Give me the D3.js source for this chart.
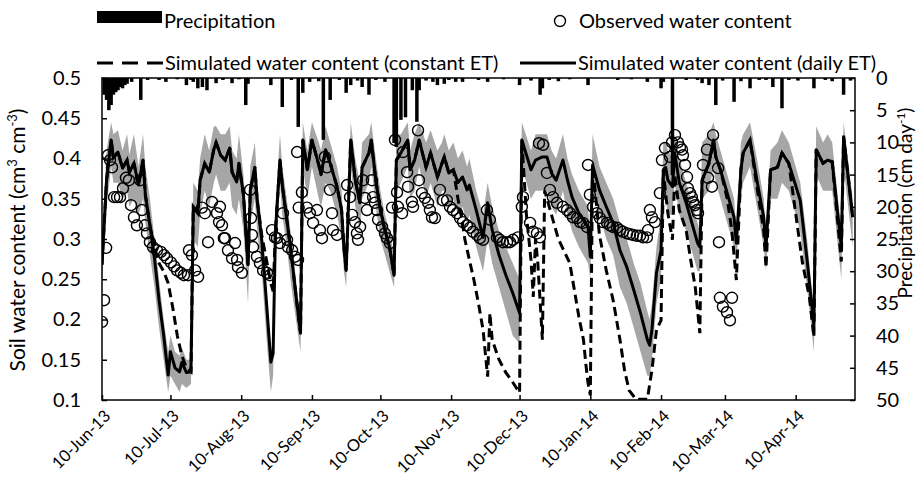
<!DOCTYPE html>
<html lang="en">
<head>
<meta charset="UTF-8" />
<title>Soil water content and precipitation</title>
<script src="https://cdn.jsdelivr.net/npm/d3@7"></script>
<style>
  body { margin: 0; background: #fff; }
  svg text { font-family: Lato, 'Liberation Sans', sans-serif; fill: #000; }
  .axis text { font-size: 20px; }
  .axis.x text { font-size: 16.5px; }
  .axis line { stroke: #000; stroke-width: 1.5; }
  .axis path { display: none; }
</style>
</head>
<body>
<div id="chart"></div>
<script>
// day 0 = 10 Jun 2013
const startDate = Date.UTC(2013, 5, 10);
const endDay = 330;

// precipitation, [day, cm/day]
const precip = [
  [1,2.6],[2,3.4],[3,5.0],[4,4.2],[5,2.6],[6,2.2],[7,1.9],[8,1.4],[9,1.6],[10,1.1],[11,0.9],[13,0.6],
  [17,3.4],[20,0.3],[25,0.3],[28,0.6],[33,0.2],[37,1.1],[39,0.3],[40,0.6],[42,1.6],[44,1.4],[46,1.9],
  [50,0.8],[53,0.3],[57,0.8],[60,0.2],[63,4.2],[64,0.9],[74,1.1],[79,4.5],[83,0.3],[86,7.6],[88,2.3],
  [91,0.6],[95,0.5],[97,9.6],[100,3.4],[104,0.3],[107,2.3],[109,1.1],[112,0.4],[114,1.4],[117,2.6],
  [120,0.3],[124,0.6],[128,10.1],[129,10.7],[131,6.5],[133,6.1],[136,1.9],[138,6.8],[139,1.9],
  [142,0.4],[145,0.6],[147,1.1],[150,0.9],[152,0.3],[155,0.6],[158,0.6],[165,0.3],[169,0.6],[176,0.2],
  [183,1.1],[188,0.4],[192,2.6],[193,1.6],[196,0.3],[200,0.5],[205,0.2],[213,1.1],[226,0.3],[232,0.2],
  [239,0.6],[245,1.6],[246,0.6],[250,15.1],[256,0.3],[261,0.3],[263,0.8],[266,1.1],[269,4.2],[272,0.4],
  [277,3.7],[280,0.5],[284,1.6],[288,0.3],[291,0.3],[294,1.4],[298,4.7],[301,0.3],[305,0.4],[312,1.6],
  [317,0.3],[320,0.5],[325,2.6],[328,0.4]
];

// simulated water content with daily ET, [day, value, band low, band high]
const simDaily = [
  [0,0.268,0.25,0.30],[2,0.373,0.34,0.41],[4,0.423,0.39,0.445],[5,0.401,0.37,0.43],[7,0.408,0.37,0.435],
  [9,0.388,0.35,0.41],[11,0.398,0.36,0.43],[12,0.383,0.34,0.405],[14,0.394,0.35,0.43],[16,0.367,0.33,0.39],
  [18,0.398,0.35,0.43],[19,0.355,0.32,0.39],[21,0.317,0.28,0.35],[23,0.276,0.24,0.30],[25,0.224,0.19,0.25],
  [27,0.181,0.15,0.20],[29,0.131,0.11,0.16],[30,0.160,0.13,0.18],[32,0.140,0.12,0.16],[34,0.135,0.11,0.155],
  [35,0.147,0.12,0.165],[37,0.134,0.115,0.15],[39,0.135,0.12,0.15],[40,0.340,0.30,0.37],[42,0.332,0.29,0.36],
  [43,0.373,0.33,0.40],[45,0.394,0.36,0.43],[47,0.383,0.34,0.41],[49,0.411,0.37,0.44],[50,0.420,0.38,0.44],
  [52,0.404,0.36,0.43],[54,0.398,0.36,0.43],[56,0.413,0.37,0.44],[57,0.383,0.34,0.41],[59,0.371,0.33,0.40],
  [60,0.394,0.35,0.43],[62,0.355,0.31,0.38],[64,0.268,0.22,0.29],[65,0.361,0.32,0.39],[67,0.389,0.35,0.42],
  [68,0.348,0.31,0.37],[70,0.299,0.26,0.32],[72,0.224,0.18,0.24],[74,0.147,0.11,0.16],[75,0.158,0.13,0.17],
  [76,0.309,0.27,0.34],[78,0.398,0.37,0.43],[79,0.367,0.33,0.39],[81,0.324,0.29,0.35],[83,0.280,0.24,0.30],
  [85,0.230,0.20,0.25],[87,0.183,0.16,0.20],[88,0.423,0.39,0.445],[90,0.386,0.35,0.41],[92,0.423,0.39,0.445],
  [95,0.392,0.35,0.42],[96,0.380,0.34,0.41],[98,0.411,0.37,0.44],[100,0.394,0.36,0.42],[103,0.365,0.33,0.39],
  [105,0.336,0.30,0.36],[106,0.290,0.26,0.31],[107,0.261,0.24,0.28],[109,0.423,0.39,0.445],[111,0.373,0.34,0.40],
  [113,0.345,0.31,0.37],[114,0.389,0.35,0.42],[117,0.407,0.37,0.43],[118,0.423,0.39,0.445],[120,0.373,0.34,0.40],
  [122,0.336,0.30,0.36],[124,0.311,0.28,0.33],[126,0.290,0.26,0.31],[128,0.255,0.24,0.28],[129,0.398,0.36,0.43],
  [131,0.407,0.37,0.43],[134,0.423,0.39,0.445],[135,0.386,0.35,0.41],[137,0.398,0.36,0.43],[139,0.423,0.39,0.445],
  [142,0.389,0.35,0.42],[144,0.407,0.37,0.435],[147,0.377,0.34,0.41],[149,0.394,0.36,0.42],[150,0.402,0.36,0.43],
  [152,0.382,0.34,0.41],[154,0.386,0.35,0.42],[156,0.370,0.33,0.40],[158,0.377,0.34,0.41],[160,0.361,0.32,0.39],
  [161,0.367,0.33,0.40],[164,0.336,0.29,0.36],[167,0.302,0.26,0.33],[169,0.345,0.30,0.37],[171,0.311,0.27,0.34],
  [174,0.280,0.24,0.31],[177,0.255,0.21,0.29],[180,0.233,0.18,0.27],[183,0.208,0.17,0.25],[184,0.423,0.39,0.445],
  [188,0.386,0.35,0.41],[190,0.398,0.36,0.43],[193,0.402,0.36,0.43],[195,0.402,0.36,0.43],[197,0.382,0.34,0.41],
  [199,0.373,0.33,0.40],[202,0.398,0.36,0.43],[204,0.373,0.33,0.40],[206,0.352,0.31,0.38],[209,0.332,0.29,0.36],
  [213,0.315,0.27,0.34],[214,0.278,0.25,0.30],[215,0.392,0.36,0.43],[218,0.361,0.33,0.39],[221,0.340,0.30,0.37],
  [224,0.320,0.28,0.35],[227,0.286,0.24,0.32],[230,0.265,0.22,0.30],[233,0.237,0.19,0.27],[236,0.208,0.16,0.245],
  [239,0.175,0.13,0.21],[240,0.168,0.13,0.20],[241,0.187,0.15,0.22],[243,0.258,0.22,0.29],[245,0.286,0.25,0.33],
  [246,0.386,0.35,0.42],[247,0.389,0.35,0.42],[248,0.373,0.33,0.41],[250,0.365,0.33,0.40],[251,0.407,0.37,0.43],
  [253,0.370,0.33,0.40],[256,0.345,0.31,0.37],[259,0.315,0.28,0.34],[261,0.295,0.26,0.32],[262,0.290,0.26,0.31],
  [263,0.373,0.35,0.42],[266,0.394,0.36,0.43],[268,0.423,0.39,0.445],[269,0.402,0.37,0.43],[271,0.386,0.35,0.41],
  [274,0.357,0.32,0.38],[277,0.327,0.29,0.35],[278,0.295,0.27,0.31],[280,0.386,0.35,0.42],[281,0.407,0.37,0.43],
  [284,0.423,0.39,0.445],[287,0.373,0.34,0.40],[290,0.327,0.29,0.35],[291,0.290,0.26,0.31],[293,0.386,0.35,0.41],
  [296,0.389,0.35,0.42],[298,0.407,0.37,0.435],[301,0.394,0.36,0.42],[306,0.348,0.31,0.37],[309,0.274,0.24,0.30],
  [312,0.192,0.16,0.21],[313,0.411,0.38,0.44],[316,0.394,0.36,0.42],[318,0.398,0.36,0.43],[320,0.396,0.36,0.42],
  [324,0.290,0.25,0.31],[325,0.427,0.39,0.445],[329,0.327,0.29,0.35]
];

// simulated water content with constant ET, [day, value]
const simConst = [
  [0,0.268],[2,0.373],[4,0.423],[5,0.401],[7,0.408],[9,0.388],[11,0.398],[12,0.383],[14,0.394],[16,0.367],
  [18,0.398],[19,0.355],[21,0.317],[23,0.29],[25,0.27],[27,0.26],[29,0.245],[31,0.215],[33,0.18],[35,0.155],
  [37,0.14],[39,0.135],[40,0.340],[42,0.332],[43,0.373],[45,0.394],[47,0.383],[49,0.411],[50,0.420],[52,0.404],
  [54,0.398],[56,0.413],[57,0.383],[59,0.371],[60,0.394],[62,0.355],[64,0.268],[65,0.361],[67,0.389],[68,0.348],
  [70,0.305],[72,0.275],[74,0.245],[75,0.235],[76,0.309],[78,0.398],[79,0.367],[81,0.324],[83,0.280],[85,0.230],
  [87,0.183],[88,0.423],[90,0.386],[92,0.423],[95,0.392],[96,0.380],[98,0.411],[100,0.394],[103,0.365],[105,0.336],
  [106,0.290],[107,0.261],[109,0.423],[111,0.373],[113,0.345],[114,0.389],[117,0.407],[118,0.423],[120,0.373],
  [122,0.336],[124,0.311],[126,0.290],[128,0.255],[129,0.398],[131,0.407],[134,0.423],[135,0.386],[137,0.398],
  [139,0.423],[142,0.389],[144,0.407],[147,0.377],[149,0.394],[150,0.402],[152,0.382],[154,0.386],[156,0.35],
  [158,0.32],[159,0.30],[161,0.274],[163,0.249],[165,0.220],[167,0.187],[168,0.158],[169,0.129],[170,0.208],
  [171,0.175],[174,0.150],[177,0.134],[180,0.122],[183,0.109],[184,0.423],[186,0.33],[188,0.274],[189,0.228],
  [190,0.30],[191,0.27],[193,0.175],[194,0.36],[197,0.33],[200,0.30],[205,0.270],[207,0.237],[209,0.203],
  [211,0.175],[212,0.146],[213,0.121],[214,0.106],[215,0.392],[218,0.305],[221,0.261],[224,0.224],[227,0.175],
  [229,0.137],[231,0.112],[234,0.101],[239,0.101],[241,0.137],[243,0.187],[245,0.199],[246,0.386],[247,0.357],
  [248,0.332],[250,0.299],[251,0.38],[253,0.336],[256,0.311],[258,0.274],[260,0.240],[262,0.183],[263,0.373],
  [266,0.394],[268,0.423],[269,0.402],[271,0.386],[274,0.35],[276,0.311],[277,0.28],[278,0.249],[280,0.386],
  [281,0.407],[284,0.423],[287,0.365],[290,0.31],[291,0.264],[293,0.386],[296,0.389],[298,0.407],[301,0.394],
  [305,0.311],[307,0.270],[310,0.228],[312,0.178],[313,0.411],[316,0.394],[318,0.398],[320,0.396],[324,0.272],
  [325,0.427],[329,0.327]
];

// observed water content, [day, value]
const observed = [
  [0,0.197],[0.9,0.224],[1.8,0.289],[2.6,0.404],[3.5,0.398],[4.4,0.389],[5.3,0.352],[6.6,0.352],[7.9,0.352],
  [9.2,0.363],[10.5,0.376],[11.8,0.373],[12.7,0.342],[14.0,0.327],[15.3,0.317],[16.7,0.373],[17.5,0.336],
  [18.8,0.317],[19.7,0.307],[21.0,0.296],[22.3,0.290],[24.1,0.286],[25.8,0.284],[27.2,0.280],[28.5,0.276],
  [30.2,0.271],[31.6,0.266],[32.9,0.261],[34.6,0.258],[35.9,0.255],[37.7,0.255],[38.1,0.286],[39.4,0.280],
  [40.8,0.261],[42.1,0.253],[43.8,0.339],[45.1,0.332],[46.5,0.296],[48.2,0.346],[50.4,0.332],[51.3,0.321],
  [51.7,0.340],[52.6,0.317],[53.4,0.301],[53.9,0.301],[55.2,0.286],[57.0,0.276],[58.3,0.295],[59.2,0.274],
  [59.6,0.265],[61.3,0.258],[64.9,0.361],[65.3,0.326],[65.7,0.305],[66.2,0.290],[67.9,0.278],[69.2,0.270],
  [70.6,0.261],[72.3,0.258],[73.6,0.255],[74.5,0.311],[75.8,0.302],[76.7,0.301],[78.0,0.295],[79.3,0.332],
  [81.1,0.299],[81.5,0.290],[83.3,0.286],[84.6,0.278],[85.9,0.274],[85.5,0.408],[86.2,0.339],[87.6,0.358],
  [89.8,0.339],[91.1,0.332],[92.5,0.320],[94.2,0.336],[95.5,0.311],[96.4,0.301],[97.7,0.402],[98.6,0.389],
  [99.9,0.361],[100.8,0.332],[101.2,0.311],[103.0,0.305],[107.4,0.367],[108.7,0.352],[109.6,0.330],[110.9,0.321],
  [111.7,0.307],[112.2,0.299],[113.1,0.315],[114.4,0.373],[115.2,0.351],[116.1,0.336],[118.3,0.373],[118.8,0.352],
  [119.6,0.345],[120.5,0.336],[121.0,0.324],[122.7,0.315],[124.0,0.307],[124.9,0.301],[126.2,0.295],[127.1,0.339],
  [128.4,0.423],[129.3,0.358],[129.7,0.340],[131.5,0.332],[131.9,0.408],[133.7,0.383],[134.1,0.365],[135.8,0.346],
  [136.3,0.340],[138.5,0.435],[138.9,0.373],[140.2,0.357],[141.5,0.351],[142.9,0.345],[143.7,0.336],[144.6,0.327],
  [145.9,0.326],[148.1,0.361],[149.4,0.348],[151.2,0.348],[152.5,0.340],[153.8,0.336],[155.6,0.332],[156.9,0.326],
  [158.2,0.321],[159.9,0.317],[161.3,0.314],[162.6,0.309],[164.3,0.305],[165.6,0.301],[167.0,0.299],[168.7,0.336],
  [170.0,0.324],[173.1,0.302],[174.4,0.299],[175.7,0.296],[177.5,0.296],[178.8,0.296],[180.1,0.299],[182.3,0.302],
  [184.0,0.340],[184.5,0.352],[187.6,0.320],[188.9,0.309],[190.6,0.307],[191.9,0.302],[191.5,0.419],[193.3,0.417],
  [195.0,0.382],[196.3,0.361],[197.6,0.352],[199.4,0.345],[202.0,0.340],[203.8,0.336],[205.1,0.332],[206.4,0.327],
  [208.2,0.326],[209.5,0.321],[210.8,0.320],[212.5,0.315],[213.0,0.392],[213.8,0.355],[215.2,0.340],[216.9,0.332],
  [218.2,0.326],[219.5,0.321],[221.3,0.320],[222.6,0.317],[223.9,0.315],[225.7,0.314],[227.0,0.311],[228.3,0.309],
  [230.1,0.307],[231.4,0.306],[232.7,0.305],[234.4,0.304],[235.8,0.304],[237.1,0.302],[238.8,0.302],[239.3,0.311],
  [240.1,0.336],[241.0,0.327],[242.3,0.321],[244.5,0.357],[245.4,0.398],[246.7,0.413],[248.9,0.402],[249.8,0.420],
  [251.1,0.429],[252.4,0.420],[253.3,0.414],[254.2,0.411],[254.6,0.404],[255.5,0.392],[256.4,0.377],[256.8,0.363],
  [257.7,0.357],[258.5,0.352],[259.0,0.346],[259.9,0.342],[260.7,0.336],[261.2,0.332],[263.4,0.392],[265.1,0.411],
  [265.6,0.376],[267.3,0.365],[267.8,0.429],[270.0,0.388],[270.4,0.296],[270.8,0.227],[272.1,0.216],[273.9,0.209],
  [275.2,0.199],[276.1,0.227]
];

const wcTicks = [0.1, 0.15, 0.2, 0.25, 0.3, 0.35, 0.4, 0.45, 0.5];
const pTicks = [0, 5, 10, 15, 20, 25, 30, 35, 40, 45, 50];
const dateTicks = [[2013,5],[2013,6],[2013,7],[2013,8],[2013,9],[2013,10],[2013,11],[2014,0],[2014,1],[2014,2],[2014,3]];

const W = 920, H = 483;
const margin = { top: 78, right: 65, bottom: 83, left: 102 };
const width = W - margin.left - margin.right;
const height = H - margin.top - margin.bottom;

const dayToDate = d => new Date(startDate + d * 864e5);

const svg = d3.select('#chart').append('svg')
  .attr('width', W).attr('height', H);

const g = svg.append('g')
  .attr('transform', 'translate(' + margin.left + ',' + margin.top + ')');

const x = d3.scaleUtc()
  .domain([dayToDate(0), dayToDate(endDay)])
  .range([0, width]);
const y = d3.scaleLinear().domain([0.1, 0.5]).range([height, 0]);
const yp = d3.scaleLinear().domain([0, 50]).range([0, height]);

svg.append('defs').append('clipPath').attr('id', 'plot')
  .append('rect').attr('width', width).attr('height', height);

const plot = g.append('g').attr('clip-path', 'url(#plot)');

// uncertainty band
plot.append('path')
  .datum(simDaily)
  .attr('fill', '#a6a6a6')
  .attr('d', d3.area()
    .x(d => x(dayToDate(d[0])))
    .y0(d => y(d[2]))
    .y1(d => y(d[3])));

// precipitation bars hanging from the top
plot.selectAll('rect.rain')
  .data(precip)
  .enter().append('rect')
  .attr('class', 'rain')
  .attr('x', d => x(dayToDate(d[0])) - 1.75)
  .attr('y', 0)
  .attr('width', 3.5)
  .attr('height', d => yp(d[1]))
  .attr('fill', '#000');

const line = d3.line()
  .x(d => x(dayToDate(d[0])))
  .y(d => y(d[1]));

plot.append('path')
  .datum(simConst)
  .attr('fill', 'none')
  .attr('stroke', '#000')
  .attr('stroke-width', 3)
  .attr('stroke-dasharray', '9,5')
  .attr('d', line);

plot.append('path')
  .datum(simDaily)
  .attr('fill', 'none')
  .attr('stroke', '#000')
  .attr('stroke-width', 3)
  .attr('stroke-linejoin', 'round')
  .attr('d', line);

plot.selectAll('circle.obs')
  .data(observed)
  .enter().append('circle')
  .attr('class', 'obs')
  .attr('cx', d => x(dayToDate(d[0])))
  .attr('cy', d => y(d[1]))
  .attr('r', 5.5)
  .attr('fill', 'none')
  .attr('stroke', '#000')
  .attr('stroke-width', 1.4);

// axes, ticks pointing inwards
g.append('g').attr('class', 'axis')
  .call(d3.axisLeft(y).tickValues(wcTicks).tickSize(-5).tickPadding(21)
    .tickFormat(d => String(+d.toFixed(2))));

g.append('g').attr('class', 'axis')
  .attr('transform', 'translate(' + width + ',0)')
  .call(d3.axisRight(yp).tickValues(pTicks).tickSize(-5).tickPadding(21));

const xAxis = g.append('g').attr('class', 'axis x')
  .attr('transform', 'translate(0,' + height + ')')
  .call(d3.axisBottom(x)
    .tickValues(dateTicks.map(t => new Date(Date.UTC(t[0], t[1], 10))))
    .tickSize(-5).tickSizeOuter(0)
    .tickFormat(d3.utcFormat('%d-%b-%y')));
xAxis.selectAll('text')
  .attr('x', 0).attr('y', 0).attr('dy', '0.35em')
  .style('text-anchor', 'end')
  .attr('transform', 'translate(5,13) rotate(-45)');

g.append('rect')
  .attr('width', width).attr('height', height)
  .attr('fill', 'none').attr('stroke', '#000').attr('stroke-width', 1.5);

// axis titles
const yTitle = svg.append('text')
  .attr('transform', 'translate(25,240) rotate(-90)')
  .attr('text-anchor', 'middle')
  .style('font-size', '21px');
yTitle.append('tspan').text('Soil water content (cm');
yTitle.append('tspan').attr('baseline-shift', 'super').style('font-size', '13px').text('3');
yTitle.append('tspan').text(' cm');
yTitle.append('tspan').attr('baseline-shift', 'super').style('font-size', '13px').text('-3');
yTitle.append('tspan').text(')');

const pTitle = svg.append('text')
  .attr('transform', 'translate(912,203) rotate(-90)')
  .attr('text-anchor', 'middle')
  .style('font-size', '19px');
pTitle.append('tspan').text('Precipitation (cm day');
pTitle.append('tspan').attr('baseline-shift', 'super').style('font-size', '12px').text('-1');
pTitle.append('tspan').text(')');

// legend
const legend = svg.append('g').style('font-size', '20px');
legend.append('rect').attr('x', 97).attr('y', 11).attr('width', 65).attr('height', 12).attr('fill', '#000');
legend.append('text').attr('x', 164).attr('y', 28).text('Precipitation');
legend.append('circle').attr('cx', 560).attr('cy', 21).attr('r', 5.5)
  .attr('fill', 'none').attr('stroke', '#000').attr('stroke-width', 1.4);
legend.append('text').attr('x', 579).attr('y', 28).text('Observed water content');
legend.append('line').attr('x1', 97).attr('x2', 163).attr('y1', 63).attr('y2', 63)
  .attr('stroke', '#000').attr('stroke-width', 3).attr('stroke-dasharray', '16,9');
legend.append('text').attr('x', 165).attr('y', 70).text('Simulated water content (constant ET)');
legend.append('line').attr('x1', 520).attr('x2', 576).attr('y1', 63).attr('y2', 63)
  .attr('stroke', '#000').attr('stroke-width', 3);
legend.append('text').attr('x', 578).attr('y', 70).text('Simulated water content (daily ET)');
</script>
</body>
</html>
